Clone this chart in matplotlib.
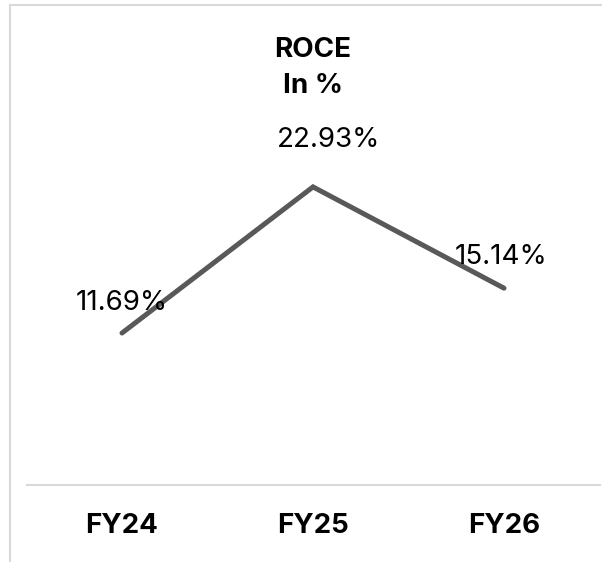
# ROCE line chart

import matplotlib.pyplot as plt
from matplotlib.lines import Line2D

# Data
years = ['FY24', 'FY25', 'FY26']
roce = [11.69, 22.93, 15.14]
labels = ['11.69%', '22.93%', '15.14%']

plt.rcParams['font.family'] = ['Inter', 'DejaVu Sans']

fig = plt.figure(figsize=(6.02, 5.62), dpi=100)
ax = fig.add_axes([26.5/602, 77/562, 573/602, 390/562])

x = list(range(len(years)))
ax.plot(x, roce, color='#595959', linewidth=3.6, solid_capstyle='round', solid_joinstyle='miter')

# value labels (offsets in points above each point)
offsets = [21.5, 33.5, 22.5]
dx = [0, 11.5, -2]
for xi, v, lab, off, d in zip(x, roce, labels, offsets, dx):
    ax.annotate(lab, (xi, v), xytext=(d, off), textcoords='offset points',
                ha='center', va='center', fontsize=20, color='black')

ax.set_xlim(-0.5, 2.5)
ax.set_ylim(0, 30)
ax.set_yticks([])
ax.set_xticks(x)
ax.set_xticklabels(years, fontsize=20, fontweight='bold')
ax.tick_params(axis='x', length=0, pad=20.5)
for s in ['top', 'right', 'left']:
    ax.spines[s].set_visible(False)
ax.spines['bottom'].set_color('#d9d9d9')
ax.spines['bottom'].set_linewidth(1.5)

# title
fig.text(313/602, 1 - 50/562, 'ROCE', ha='center', va='center', fontsize=20, fontweight='bold')
fig.text(313/602, 1 - 86/562, 'In %', ha='center', va='center', fontsize=20, fontweight='bold')

# outer border lines (top and left)
fig.add_artist(Line2D([10/602, 1], [1 - 5/562, 1 - 5/562], color='#d9d9d9', linewidth=1.5, transform=fig.transFigure))
fig.add_artist(Line2D([10/602, 10/602], [0, 1 - 5/562], color='#d9d9d9', linewidth=1.5, transform=fig.transFigure))

fig.savefig('out.png', dpi=100)
